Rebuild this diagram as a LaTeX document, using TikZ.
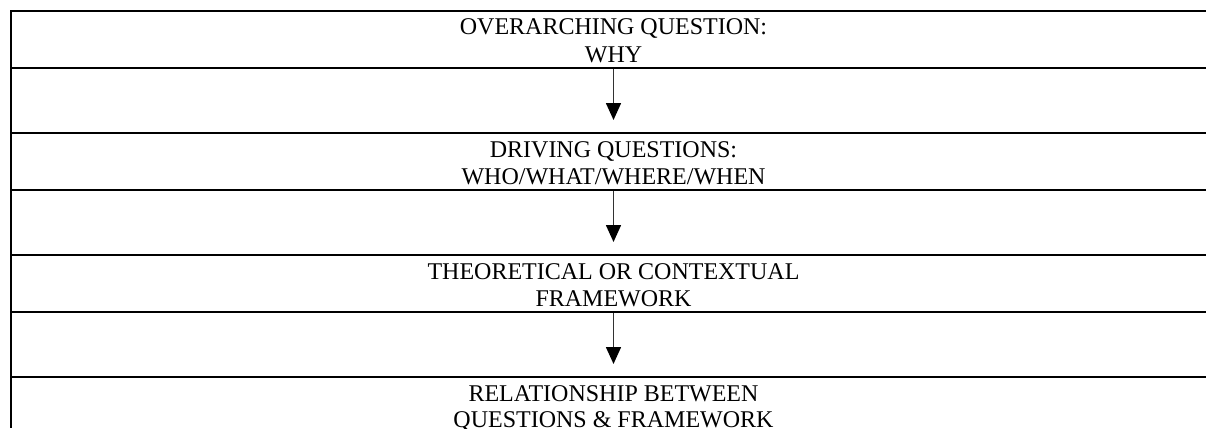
\documentclass[tikz,border=0pt]{standalone}
\usepackage{fontspec}
\setmainfont{Liberation Serif}
\usetikzlibrary{arrows.meta}
\begin{document}
\begin{tikzpicture}[x=1pt,y=-1pt,
  rule/.style={line width=1.6pt,black},
  lbl/.style={inner sep=0pt,anchor=base,font=\fontsize{24}{27.6}\selectfont},
  flow/.style={line width=1.6pt,draw={rgb,255:red,50;green,50;blue,50},
    -{Triangle[length=17pt,width=15pt,color=black]}}]
\useasboundingbox (0,0) rectangle (1206,428);
% table rules
\foreach \y in {11,68,133,190,255,312,377}
  \draw[rule] (10.2,\y) -- (1206,\y);
\draw[rule] (11,10.2) -- (11,428);
% texts
\node[lbl] (t1a) at (613.5,35) {OVERARCHING QUESTION:};
\node[lbl] (t1b) at (613.5,62.5) {WHY};
\node[lbl] (t2a) at (613.5,157) {DRIVING QUESTIONS:};
\node[lbl] (t2b) at (613.5,184.5) {WHO/WHAT/WHERE/WHEN};
\node[lbl] (t3a) at (613.5,279) {THEORETICAL OR CONTEXTUAL};
\node[lbl] (t3b) at (613.5,306.5) {FRAMEWORK};
\node[lbl] (t4a) at (613.5,401) {RELATIONSHIP BETWEEN};
\node[lbl] (t4b) at (613.5,427.5) {QUESTIONS \& FRAMEWORK};
% arrows
\coordinate (a1s) at (613.5,68.8);
\coordinate (a1e) at (613.5,120);
\coordinate (a2s) at (613.5,190.8);
\coordinate (a2e) at (613.5,242);
\coordinate (a3s) at (613.5,312.8);
\coordinate (a3e) at (613.5,364);
\draw[flow] (a1s) -- (a1e);
\draw[flow] (a2s) -- (a2e);
\draw[flow] (a3s) -- (a3e);
\end{tikzpicture}
\end{document}
